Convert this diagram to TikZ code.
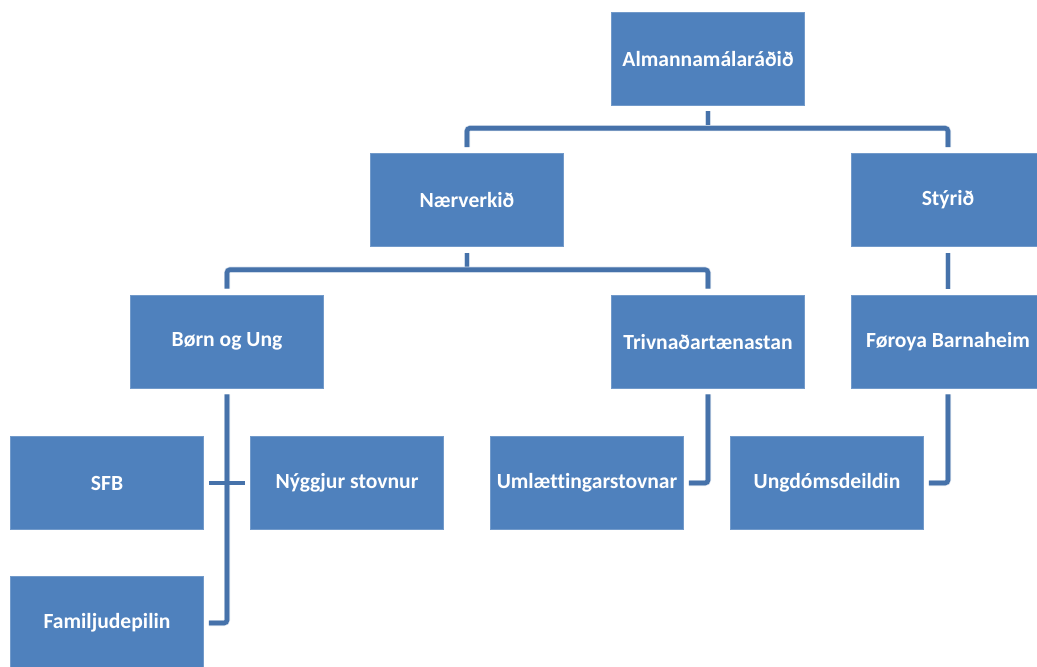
\documentclass[tikz,border=0pt]{standalone}
\usepackage{fontspec}
\setmainfont[Ligatures=NoCommon]{Carlito}
\usepackage{tikz}
\definecolor{boxblue}{HTML}{4F81BD}
\definecolor{lineblue}{HTML}{4672AA}

\begin{document}
\begin{tikzpicture}[x=1pt, y=-1pt,
	unit/.style={fill=boxblue, draw=boxblue!80!white, line width=0.6pt, text=white, minimum width=193pt, minimum height=93pt, inner sep=0pt, font=\fontsize{21.6}{25}\selectfont\bfseries},
	link/.style={draw=lineblue, line width=4.6pt, rounded corners=3pt},
	conn/.style={link, preaction={draw=lineblue!25!white, line width=6pt}}]
	\useasboundingbox (0, 0) rectangle (1037, 667);
	\node [unit] (alm) at (708, 58.5) {Almannamálaráðið};
	\node [unit] (naer) at (467, 200) {Nærverkið};
	\node [unit] (styr) at (948, 200) {Stýrið};
	\node [unit] (born) at (227, 341.5) {Børn og Ung};
	\node [unit] (triv) at (708, 341.5) {Trivnaðartænastan};
	\node [unit] (foer) at (948, 341.5) {Føroya Barnaheim};
	\node [unit] (sfb) at (107, 483) {SFB};
	\node [unit] (nyg) at (347, 483) {Nýggjur stovnur};
	\node [unit] (uml) at (587, 483) {Umlættingarstovnar};
	\node [unit] (ung) at (827, 483) {Ungdómsdeildin};
	\node [unit] (fam) at (107, 623) {Familjudepilin};
	% top level
	\draw [conn] ([yshift=-6pt]alm.south) -- ++(0, 17.5);
	\draw [conn] ([yshift=6pt]naer.north) -- ++(0, -19) -| ([yshift=6pt]styr.north);
	% second level
	\draw [conn] ([yshift=-6pt]naer.south) -- ++(0, 17.5);
	\draw [conn] ([yshift=6pt]born.north) -- ++(0, -19) -| ([yshift=6pt]triv.north);
	\draw [conn] ([yshift=-6pt]styr.south) -- ([yshift=6pt]foer.north);
	% lowest level
	\draw [conn] ([yshift=-6pt]born.south) |- ([xshift=5pt]fam.east);
	\draw [link] ([xshift=5pt]sfb.east) -- ([xshift=-5pt]nyg.west);
	\draw [conn] ([yshift=-6pt]triv.south) |- ([xshift=5pt]uml.east);
	\draw [conn] ([yshift=-6pt]foer.south) |- ([xshift=5pt]ung.east);
\end{tikzpicture}
\end{document}
